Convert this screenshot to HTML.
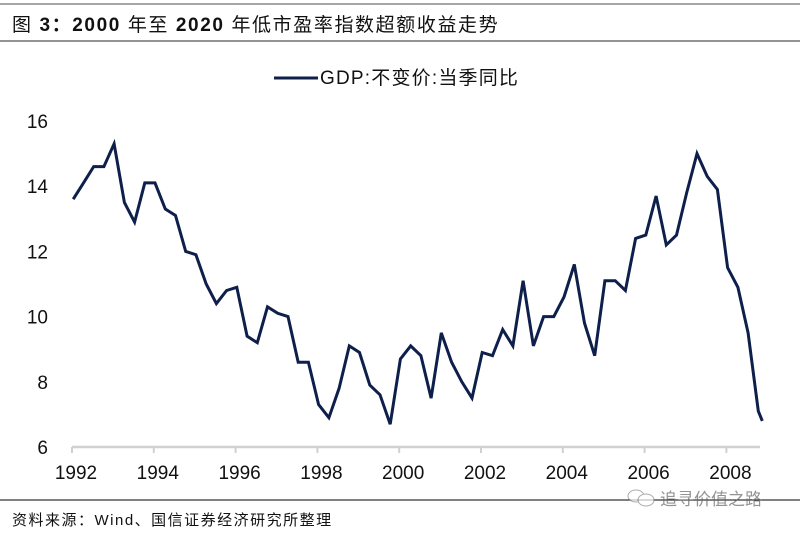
<!DOCTYPE html>
<html><head><meta charset="utf-8"><style>
body{margin:0;background:#fff;}
#wrap{position:relative;width:800px;height:533px;overflow:hidden;font-family:"Liberation Sans","Noto Sans CJK SC",sans-serif;}
</style></head><body>
<div id="wrap">
<svg id="chart" width="800" height="533">
  <line x1="0" y1="4" x2="800" y2="4" stroke="#888" stroke-width="1.5"/>
  <text x="12" y="31" font-size="19" font-weight="bold" fill="#111" letter-spacing="1.6" font-family="Liberation Sans, Noto Sans CJK SC, sans-serif"><tspan font-weight="normal">图</tspan> 3：2000 <tspan font-weight="normal">年至</tspan> 2020 <tspan font-weight="normal">年低市盈率指数超额收益走势</tspan></text>
  <line x1="0" y1="41" x2="800" y2="41" stroke="#555" stroke-width="1.2"/>
  <g>
    <line x1="274" y1="78" x2="318" y2="78" stroke="#0d1f4a" stroke-width="3"/>
    <text x="320" y="84" font-size="19" fill="#111" letter-spacing="1.2">GDP:不变价:当季同比</text>
  </g>
  <g id="yaxis"></g>
  <g id="xaxis"></g>
  <g id="series"></g>
  <line x1="0" y1="500" x2="800" y2="500" stroke="#000" stroke-width="1"/>
  <text x="12" y="525" font-size="15" fill="#111" letter-spacing="1.5">资料来源：Wind、国信证券经济研究所整理</text>
  <g opacity="0.7">
    <ellipse cx="636" cy="496" rx="8" ry="6" fill="#fff" stroke="#888"/>
    <ellipse cx="646" cy="500" rx="8" ry="6" fill="#fff" stroke="#888"/>
    <text x="660" y="505" font-size="17" fill="#666">追寻价值之路</text>
  </g>
</svg>
</div>
<script>
const yTicks = [6, 8, 10, 12, 14, 16];
const xTickLabels = ["1992","1994","1996","1998","2000","2002","2004","2006","2008"];
const startYear = 1992;
const gdpValues = [
 13.6,14.1,14.6,14.6, 15.3,13.5,12.9,14.1, 14.1,13.3,13.1,12.0, 11.9,11.0,10.4,10.8,
 10.9,9.4,9.2,10.3, 10.1,10.0,8.6,8.6, 7.3,6.9,7.8,9.1, 8.9,7.9,7.6,6.7,
 8.7,9.1,8.8,7.5, 9.5,8.6,8.0,7.5, 8.9,8.8,9.6,9.1, 11.1,9.1,10.0,10.0,
 10.6,11.6,9.8,8.8, 11.1,11.1,10.8,12.4, 12.5,13.7,12.2,12.5, 13.8,15.0,14.3,13.9,
 11.5,10.9,9.5,7.1, 6.8
];
const NS="http://www.w3.org/2000/svg";
const x0=72, pxYear=40.9, yBase=447, pxUnit=32.6;
function xScale(t){return x0+(t-startYear)*pxYear;}
function yScale(v){return yBase-(v-6)*pxUnit;}
const ya=document.getElementById('yaxis');
yTicks.forEach(v=>{
  const t=document.createElementNS(NS,'text');
  t.setAttribute('x',48);t.setAttribute('y',yScale(v)+7);
  t.setAttribute('text-anchor','end');t.setAttribute('font-size','19');t.setAttribute('fill','#111');
  t.textContent=v;
  
  
  ya.appendChild(t);
});
const xa=document.getElementById('xaxis');
const al=document.createElementNS(NS,'line');
al.setAttribute('x1',x0);al.setAttribute('x2',760);al.setAttribute('y1',yBase);al.setAttribute('y2',yBase);
al.setAttribute('stroke','#d0d0d0');al.setAttribute('stroke-width','2.5');


xa.appendChild(al);
xTickLabels.forEach(lbl=>{
  const x=xScale(+lbl);
  const tk=document.createElementNS(NS,'line');
  tk.setAttribute('x1',x);tk.setAttribute('x2',x);tk.setAttribute('y1',yBase);tk.setAttribute('y2',yBase+6);
  tk.setAttribute('stroke','#d0d0d0');tk.setAttribute('stroke-width','2');
  
  
  xa.appendChild(tk);
  const t=document.createElementNS(NS,'text');
  t.setAttribute('x',x+4);t.setAttribute('y',479);t.setAttribute('text-anchor','middle');
  t.setAttribute('font-size','19');t.setAttribute('fill','#111');
  t.textContent=lbl;
  
  
  xa.appendChild(t);
});
const pts=gdpValues.map((v,i)=>{
  const xx=i<68?xScale(startYear+i/4+0.03):xScale(startYear+67/4+0.03)+4;
  return xx.toFixed(1)+','+yScale(v).toFixed(1);
}).join(' ');
const pl=document.createElementNS(NS,'polyline');
pl.setAttribute('points',pts);pl.setAttribute('fill','none');
pl.setAttribute('stroke','#0d1f4a');pl.setAttribute('stroke-width','3');pl.setAttribute('stroke-linejoin','miter');


document.getElementById('series').appendChild(pl);
</script>
</body></html>
